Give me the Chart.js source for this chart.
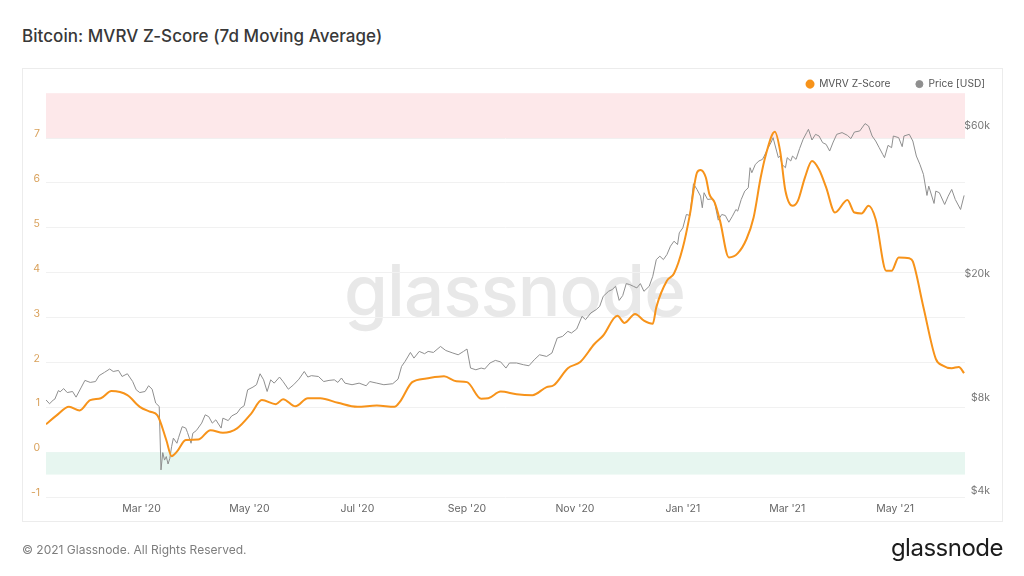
<!DOCTYPE html>
<html>
<head>
<meta charset="utf-8">
<title>Bitcoin: MVRV Z-Score (7d Moving Average)</title>
<script src="https://cdn.jsdelivr.net/npm/chart.js@4.4.0/dist/chart.umd.min.js"></script>
<style>
    html, body { margin: 0; padding: 0; background: #ffffff; }
    body { width: 1024px; height: 576px; position: relative; overflow: hidden; font-family: Inter, "Noto Sans", sans-serif; }
    .title { position: absolute; left: 22px; top: 26px; font-size: 17px; font-weight: 500; color: #383838; letter-spacing: 0.05px; }
    .card { position: absolute; left: 22px; top: 68px; width: 979px; height: 452px; border: 1px solid #ececec; }
    .watermark { position: absolute; left: 344px; top: 247px; font-size: 71px; font-weight: 500; color: #e8e8e8; letter-spacing: -1px; }
    .chart-box { position: absolute; left: 0; top: 0; width: 1024px; height: 576px; }
    .footer { position: absolute; left: 22px; top: 542px; font-size: 12px; color: #7d7d7d; }
    .logo { position: absolute; right: 21px; top: 533px; font-size: 24px; font-weight: 400; color: #1c1c1c; letter-spacing: -0.5px; }
</style>
</head>
<body>
<div class="title">Bitcoin: MVRV Z-Score (7d Moving Average)</div>
<div class="card"></div>
<div class="watermark">glassnode</div>
<div class="chart-box"><canvas id="mvrvChart"></canvas></div>
<div class="footer">© 2021 Glassnode. All Rights Reserved.</div>
<div class="logo">glassnode</div>
<script>
// days counted from 1 Jan 2020
const monthTickDays = [60, 121, 182, 244, 305, 366, 425, 486];
const monthTickLabels = ["Mar '20", "May '20", "Jul '20", "Sep '20", "Nov '20", "Jan '21", "Mar '21", "May '21"];
const zScoreTicks = [-1, 0, 1, 2, 3, 4, 5, 6, 7];
const priceTicks = [4000, 8000, 20000, 60000];
const overvaluedZone = [7, 8];
const undervaluedZone = [-0.5, 0];

const mvrvDays = [6, 12, 19, 25, 31, 37, 43, 52, 59, 65, 69, 74, 77, 80, 85, 92, 99, 106, 114, 122,
    128, 136, 140, 147, 154, 161, 171, 182, 193, 203, 206, 213, 221, 231, 238, 244, 252, 256, 263, 272,
    281, 289, 293, 301, 308, 316, 321, 329, 333, 339, 344, 349, 351, 357, 361, 366, 370, 374, 376, 379,
    381, 384, 387, 392, 397, 402, 406, 410, 413, 418, 421, 424, 428, 431, 435, 439, 443, 447, 452, 459,
    463, 467, 471, 475, 481, 484, 488, 494, 496, 502, 509, 513, 518, 522, 525];
const mvrvValues = [0.62, 0.82, 1.01, 0.93, 1.16, 1.20, 1.36, 1.27, 1.01, 0.90, 0.82, 0.27, -0.09, 0.01, 0.27, 0.28, 0.49, 0.43, 0.53, 0.86,
    1.16, 1.07, 1.18, 1.02, 1.20, 1.20, 1.10, 1.01, 1.04, 1.01, 1.12, 1.56, 1.64, 1.69, 1.58, 1.56, 1.19, 1.20, 1.35, 1.29,
    1.27, 1.45, 1.49, 1.87, 2.01, 2.41, 2.60, 3.04, 2.88, 3.08, 2.93, 2.86, 3.23, 3.82, 3.98, 4.56, 5.30, 6.23, 6.29, 6.12,
    5.75, 5.56, 5.16, 4.34, 4.43, 4.75, 5.23, 6.12, 6.64, 7.14, 6.71, 5.82, 5.49, 5.60, 6.12, 6.49, 6.30, 5.90, 5.34, 5.62,
    5.34, 5.32, 5.49, 5.19, 4.04, 4.04, 4.34, 4.32, 4.25, 3.23, 2.08, 1.93, 1.87, 1.90, 1.76];

const priceDays = [6, 8, 10, 11, 13, 14, 16, 18, 21, 23, 26, 28, 31, 34, 36, 39, 42, 44, 47, 49,
    52, 55, 57, 59, 62, 64, 66, 68, 70, 71, 72, 73, 74, 75, 76, 77, 78, 80, 81, 83,
    85, 86, 88, 89, 91, 94, 96, 98, 100, 102, 105, 106, 109, 111, 114, 116, 118, 120, 123, 125,
    127, 129, 131, 133, 135, 138, 140, 143, 146, 149, 152, 154, 156, 160, 163, 166, 169, 171, 173, 175,
    179, 183, 187, 189, 193, 197, 202, 205, 207, 209, 212, 214, 217, 220, 222, 225, 229, 232, 236, 239,
    242, 244, 246, 249, 252, 254, 257, 260, 263, 266, 268, 272, 276, 279, 282, 285, 289, 292, 295, 298,
    301, 303, 306, 309, 311, 314, 317, 319, 321, 324, 326, 328, 330, 332, 334, 336, 338, 340, 342, 344,
    347, 349, 351, 353, 355, 357, 359, 361, 363, 364, 366, 368, 370, 371, 372, 374, 376, 377, 378, 380,
    383, 384, 386, 388, 390, 392, 394, 396, 397, 399, 401, 403, 404, 405, 407, 409, 411, 412, 414, 416,
    417, 419, 420, 421, 422, 424, 425, 427, 428, 430, 432, 434, 436, 437, 439, 441, 443, 445, 447, 449,
    451, 453, 456, 459, 461, 463, 466, 469, 471, 473, 475, 477, 479, 480, 482, 484, 485, 488, 490, 491,
    494, 496, 498, 500, 502, 504, 505, 508, 509, 511, 514, 516, 518, 520, 523, 525];
const priceValues = [8220, 7990, 8200, 8270, 8810, 8730, 8940, 8680, 8750, 8390, 9040, 9500, 9360, 9420, 9840, 10080, 10340, 10150, 10230, 9780,
    9980, 9420, 8860, 8680, 8750, 9130, 8900, 8030, 7830, 4890, 5560, 5260, 5400, 5110, 5330, 5810, 6190, 5960, 6230, 6740,
    6670, 6450, 5960, 6420, 6550, 6920, 7360, 7260, 6920, 7090, 6670, 7180, 7050, 7300, 7450, 7730, 7870, 8860, 9040, 9200,
    9980, 9540, 8750, 9540, 9310, 9740, 9420, 8900, 9200, 9590, 10150, 9740, 9840, 9780, 9420, 9500, 9540, 9360, 9670, 9310,
    9200, 9310, 9130, 9420, 9310, 9200, 9270, 9590, 10540, 10940, 11690, 11210, 11780, 11580, 11780, 11690, 12220, 11860, 11640, 11490,
    11780, 11990, 10410, 10280, 10410, 10340, 10810, 11020, 10900, 10410, 10810, 10810, 10670, 10590, 11070, 11490, 11350, 11640, 13010, 13170,
    13670, 13500, 13910, 15280, 14910, 15670, 16060, 16460, 17730, 18400, 18630, 19100, 17200, 17820, 19480, 19340, 19100, 18870, 19480, 18400,
    19100, 20570, 23280, 23870, 23280, 24160, 25710, 26680, 26030, 28400, 29460, 32530, 32290, 36370, 40870, 39180, 37270, 34200, 38230, 36370,
    36560, 35490, 31190, 32530, 32290, 30720, 32120, 33760, 33350, 36370, 38690, 39670, 46030, 44350, 47190, 48380, 48960, 50190, 53040, 55690,
    57520, 52090, 49590, 50190, 47190, 46030, 49590, 48380, 50190, 48960, 53040, 56840, 59720, 61200, 56530, 58960, 58230, 55440, 54730, 52090,
    55690, 58960, 59720, 58520, 57120, 59970, 60450, 63850, 62700, 58230, 56110, 53400, 50810, 49590, 54340, 53400, 58230, 57520, 53810, 58230,
    58960, 56110, 50190, 47190, 43810, 37470, 40150, 35310, 38690, 38230, 35040, 37270, 39180, 36370, 33760, 37470];

const orange = "#f7931a";
const grey = "#8f8f8f";

// shaded over / under valued zones behind the lines
const zonesPlugin = {
    id: "zones",
    beforeDatasetsDraw(chart) {
        const { ctx, chartArea, scales } = chart;
        const y = scales.y;
        const w = chartArea.right - chartArea.left;
        ctx.save();
        ctx.fillStyle = "#fde8ea";
        let top = y.getPixelForValue(overvaluedZone[1]);
        let bottom = y.getPixelForValue(overvaluedZone[0]);
        ctx.fillRect(chartArea.left, top, w, bottom - top);
        ctx.fillStyle = "#e7f6f0";
        top = y.getPixelForValue(undervaluedZone[1]);
        bottom = y.getPixelForValue(undervaluedZone[0]);
        ctx.fillRect(chartArea.left, top, w, bottom - top);
        ctx.restore();
    }
};

// legend sits a bit closer to the plot, price labels end short of the legend edge
const layoutTweaks = {
    id: "layoutTweaks",
    afterInit(chart) {
        const fit = chart.legend.fit;
        chart.legend.fit = function () {
            fit.call(this);
            this.height -= 6;
        };
    },
    afterLayout(chart) {
        const price = chart.scales.y1;
        price.right = chart.chartArea.right + 25;
    }
};

new Chart(document.getElementById("mvrvChart"), {
    type: "line",
    data: {
        datasets: [
            {
                label: "MVRV Z-Score",
                data: mvrvDays.map((d, i) => ({ x: d, y: mvrvValues[i] })),
                yAxisID: "y",
                borderColor: orange,
                backgroundColor: orange,
                borderWidth: 2,
                pointRadius: 0,
                cubicInterpolationMode: "monotone"
            },
            {
                label: "Price [USD]",
                data: priceDays.map((d, i) => ({ x: d, y: priceValues[i] })),
                yAxisID: "y1",
                borderColor: grey,
                backgroundColor: grey,
                borderWidth: 1,
                pointRadius: 0,
                tension: 0
            }
        ]
    },
    options: {
        responsive: true,
        maintainAspectRatio: false,
        animation: false,
        layout: { padding: { left: 22, right: 14, top: 54, bottom: 54 } },
        plugins: {
            tooltip: { enabled: false },
            legend: {
                position: "top",
                align: "end",
                labels: {
                    usePointStyle: true,
                    pointStyle: "circle",
                    boxWidth: 8,
                    boxHeight: 5,
                    padding: 25,
                    color: "#555555",
                    font: { family: "Inter", size: 10.2 }
                }
            }
        },
        scales: {
            x: {
                type: "linear",
                min: 6,
                max: 525.5,
                afterBuildTicks: (axis) => { axis.ticks = monthTickDays.map((v) => ({ value: v })); },
                afterFit: (axis) => { axis.height = 25; },
                grid: { display: false, drawTicks: false },
                border: { display: false },
                ticks: {
                    autoSkip: false,
                    maxRotation: 0,
                    padding: 6,
                    color: "#666666",
                    font: { family: "Inter", size: 10.5 },
                    callback: (v) => monthTickLabels[monthTickDays.indexOf(v)]
                }
            },
            y: {
                type: "linear",
                position: "left",
                min: -1,
                max: 8,
                afterBuildTicks: (axis) => { axis.ticks = zScoreTicks.map((v) => ({ value: v })); },
                afterFit: (axis) => { axis.width = 24; },
                grid: { color: "#f1f1f1", drawTicks: false },
                border: { display: false },
                ticks: {
                    padding: 6,
                    labelOffset: -4,
                    color: "#d9a15b",
                    font: { family: "Inter", size: 10.5 }
                }
            },
            y1: {
                type: "logarithmic",
                position: "right",
                min: 4000,
                max: 80000,
                afterBuildTicks: (axis) => { axis.ticks = priceTicks.map((v) => ({ value: v })); },
                afterFit: (axis) => { axis.width = 45; },
                grid: { display: false, drawTicks: false },
                border: { display: false },
                ticks: {
                    padding: 0,
                    crossAlign: "far",
                    labelOffset: -6,
                    color: "#777777",
                    font: { family: "Inter", size: 10.5 },
                    callback: (v) => "$" + (v / 1000) + "k"
                }
            }
        }
    },
    plugins: [zonesPlugin, layoutTweaks]
});
</script>
</body>
</html>
